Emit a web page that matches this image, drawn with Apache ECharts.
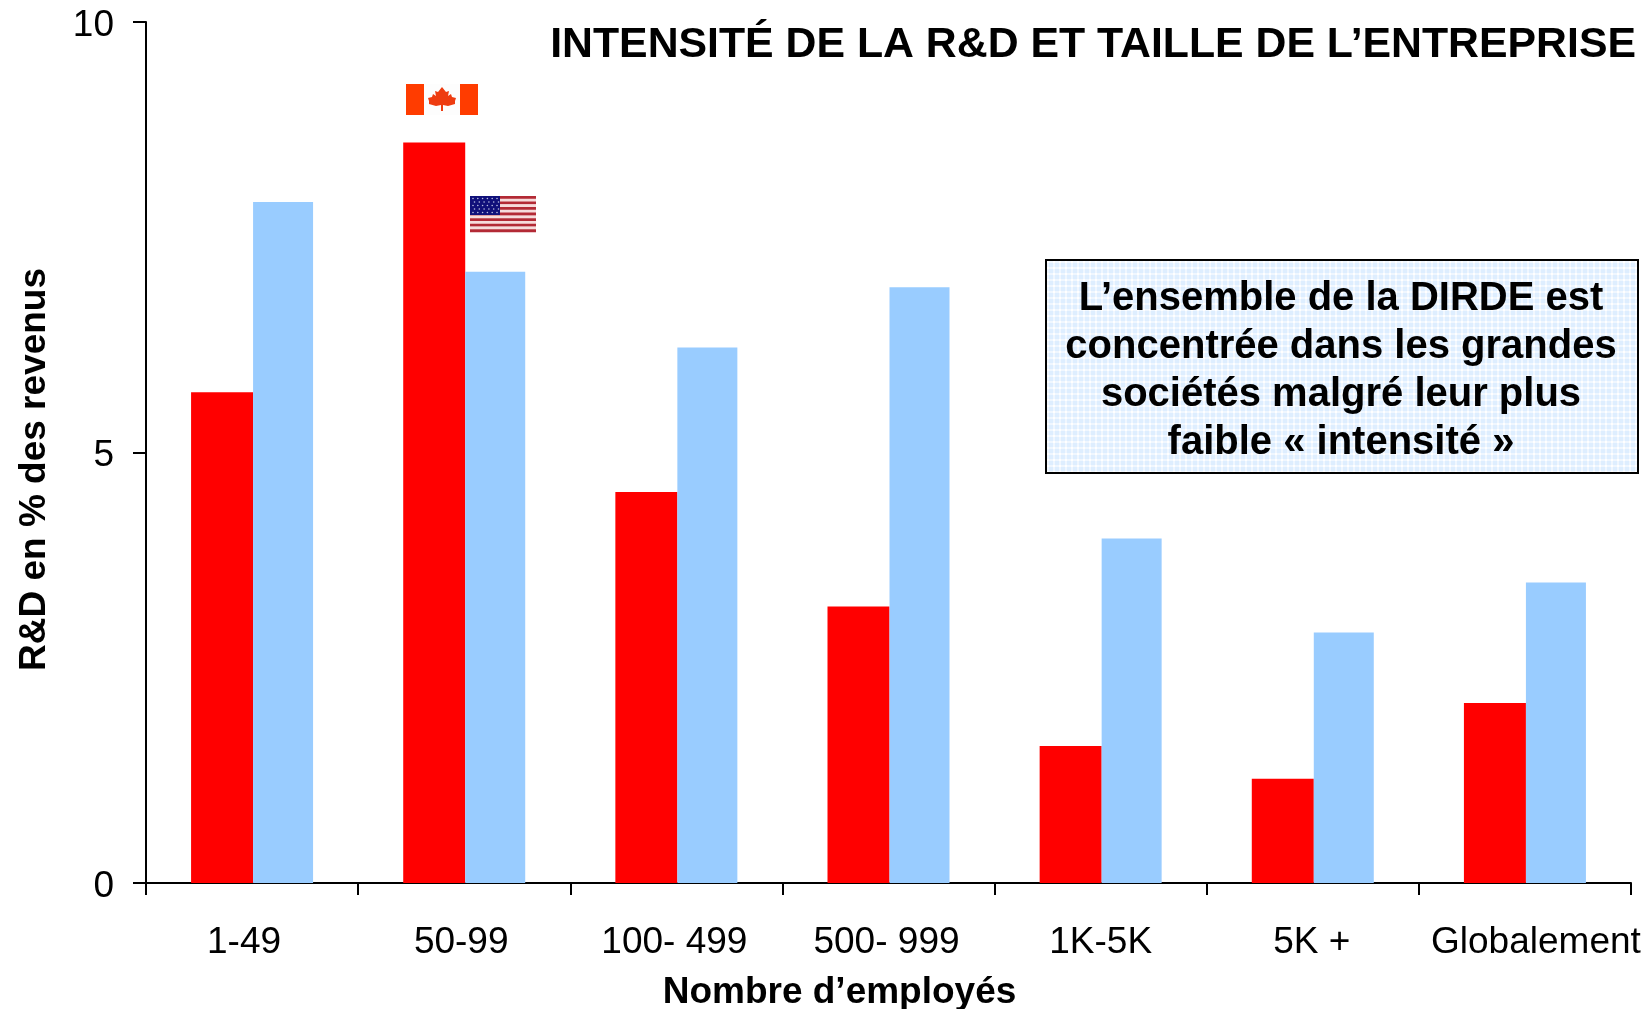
<!DOCTYPE html>
<html>
<head>
<meta charset="utf-8">
<title>Intensité de la R&D</title>
<style>
  html, body { margin: 0; padding: 0; background: #fff; }
  #chart { width: 1652px; height: 1009px; }
</style>
</head>
<body>
<div id="chart"></div>
<script src="https://cdn.jsdelivr.net/npm/echarts@6/dist/echarts.min.js"></script>
<script>
var categories = ['1-49', '50-99', '100- 499', '500- 999', '1K-5K', '5K +', 'Globalement'];
var canada = [5.7, 8.6, 4.54, 3.21, 1.59, 1.21, 2.09];
var usa = [7.91, 7.1, 6.22, 6.92, 4.0, 2.91, 3.49];
var yTicks = [0, 5, 10];
// labels sit a bit off the category centres in the original
var labelShift = [-8, -3, -2, -2, 0, -1, 11];

var titleText = 'INTENSITÉ DE LA R&D ET TAILLE DE L’ENTREPRISE';
var noteLines = [
  'L’ensemble de la DIRDE est',
  'concentrée dans les grandes',
  'sociétés malgré leur plus',
  'faible « intensité »'
];

var FONT = '"Liberation Sans", Arial, sans-serif';

// pale plaid behind the note
function notePattern() {
  var c = document.createElement('canvas');
  c.width = 6; c.height = 6;
  var ctx = c.getContext('2d');
  ctx.fillStyle = '#deeeff';
  ctx.fillRect(0, 0, 6, 6);
  ctx.fillStyle = '#f0f7ff';
  ctx.fillRect(3, 0, 2, 6);
  ctx.fillRect(0, 3, 6, 2);
  ctx.fillStyle = '#ffffff';
  ctx.fillRect(3, 3, 2, 2);
  return { image: c, repeat: 'repeat' };
}

function canadaFlag() {
  var x = 406, y = 84, w = 72, h = 31;
  var cx = x + w / 2;
  // maple leaf, offsets from the flag centre
  var leaf = [[0,-12],[4,-7],[7,-8],[6,-3],[9,-5],[10,-2],[14,-1],[13,2],[13,5],[6,7],[1,6],[1,12],[-1,12],[-1,6],[-6,7],[-13,5],[-13,2],[-14,-1],[-10,-2],[-9,-5],[-6,-3],[-7,-8],[-4,-7]];
  return {
    type: 'group',
    children: [
      { type: 'rect', shape: { x: x, y: y, width: w, height: h }, style: { fill: '#ff3c00' } },
      { type: 'rect', shape: { x: x + 18, y: y, width: 36, height: h }, style: { fill: '#fdfdfd' } },
      { type: 'polygon', shape: { points: leaf.map(function (p) { return [cx + p[0], y + 15 + p[1]]; }) }, style: { fill: '#ee3c10' } }
    ]
  };
}

function usFlag() {
  var x = 470, y = 196, w = 66, h = 36;
  var kids = [];
  for (var i = 0; i < 13; i++) {
    kids.push({
      type: 'rect',
      shape: { x: x, y: y + i * h / 13, width: w, height: h / 13 + 0.3 },
      style: { fill: i % 2 ? '#f6dcdc' : '#b32a35' }
    });
  }
  kids.push({ type: 'rect', shape: { x: x, y: y, width: 30, height: 19 }, style: { fill: '#10107a' } });
  for (var r = 0; r < 5; r++) {
    for (var s = 0; s < 6; s++) {
      kids.push({
        type: 'circle',
        shape: { cx: x + 3 + s * 4.8 + (r % 2 ? 1.5 : 0), cy: y + 2.5 + r * 3.5, r: 0.8 },
        style: { fill: '#b9bde0' }
      });
    }
  }
  return { type: 'group', children: kids };
}

var chart = echarts.init(document.getElementById('chart'), null, { renderer: 'canvas' });

var rich = {};
categories.forEach(function (c, i) {
  var s = labelShift[i];
  rich['l' + i] = {
    fontFamily: FONT, fontSize: 37, color: '#000',
    padding: s < 0 ? [0, -2 * s, 0, 0] : [0, 0, 0, 2 * s]
  };
});

chart.setOption({
  animation: false,
  backgroundColor: '#fff',
  title: {
    text: titleText,
    right: 11,
    top: 19,
    textStyle: { fontFamily: FONT, fontSize: 42.8, fontWeight: 'bold', color: '#000' }
  },
  grid: { left: 146, right: 21, top: 22, bottom: 126, outerBoundsMode: 'none' },
  xAxis: {
    type: 'category',
    data: categories,
    name: 'Nombre d’employés',
    nameLocation: 'middle',
    nameGap: 91,
    nameTextStyle: { fontFamily: FONT, fontSize: 37, fontWeight: 'bold', color: '#000', padding: [0, 98, 0, 0] },
    axisLine: { lineStyle: { color: '#000', width: 2 } },
    axisTick: { show: true, length: 12, alignWithLabel: false, lineStyle: { color: '#000', width: 2 } },
    axisLabel: {
      margin: 41,
      interval: 0,
      hideOverlap: false,
      formatter: function (v, i) { return '{l' + i + '|' + v + '}'; },
      rich: rich
    }
  },
  yAxis: {
    type: 'value',
    min: yTicks[0],
    max: yTicks[2],
    interval: yTicks[1],
    name: 'R&D en % des revenus',
    nameLocation: 'middle',
    nameGap: 93,
    nameTextStyle: { fontFamily: FONT, fontSize: 37, fontWeight: 'bold', color: '#000', padding: [0, 34, 0, 0] },
    axisLine: { show: true, lineStyle: { color: '#000', width: 2 } },
    axisTick: { show: true, length: 13, lineStyle: { color: '#000', width: 2 } },
    axisLabel: {
      margin: 32,
      formatter: '{v|{value}}',
      rich: { v: { fontFamily: FONT, fontSize: 37, color: '#000', padding: [7, 0, 0, 0] } }
    },
    splitLine: { show: false }
  },
  series: [
    { name: 'Canada', type: 'bar', data: canada, barWidth: 62, barGap: 0, itemStyle: { color: '#ff0000' } },
    { name: 'États-Unis', type: 'bar', data: usa, barWidth: 60, barGap: 0, itemStyle: { color: '#99ccff' } }
  ],
  graphic: [
    canadaFlag(),
    usFlag(),
    {
      type: 'rect',
      shape: { x: 1046, y: 260, width: 592, height: 213 },
      style: { fill: notePattern(), stroke: '#000', lineWidth: 2 }
    },
    {
      type: 'text',
      x: 1341,
      y: 275,
      style: {
        text: noteLines.join('\n'),
        x: 0, y: 0,
        align: 'center',
        verticalAlign: 'top',
        fontFamily: FONT, fontSize: 40, fontWeight: 'bold',
        lineHeight: 48,
        fill: '#000'
      }
    }
  ]
});
</script>
</body>
</html>
